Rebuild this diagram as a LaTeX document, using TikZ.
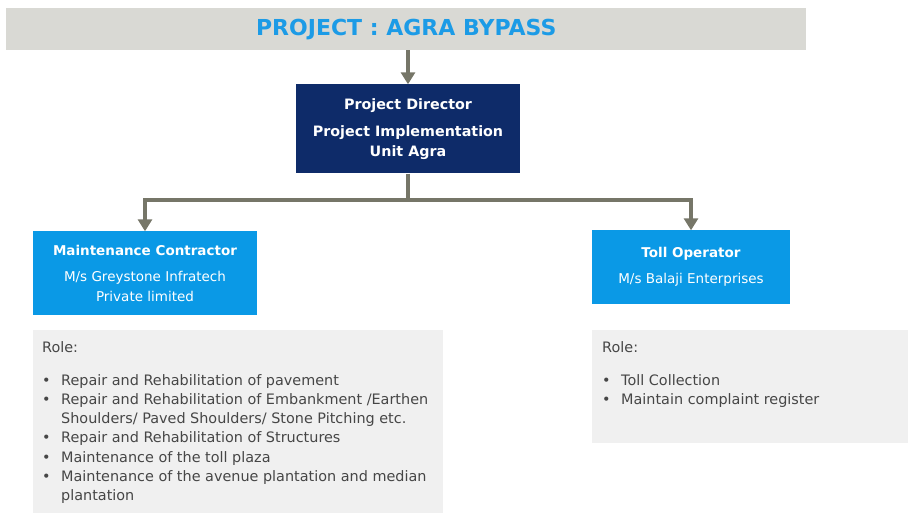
\documentclass[tikz,border=0pt]{standalone}
\usepackage{fontspec}
\setmainfont{DejaVu Sans}
\usetikzlibrary{arrows.meta}

\definecolor{titlegray}{RGB}{217,217,212}
\definecolor{titleblue}{RGB}{28,155,230}
\definecolor{pdnavy}{RGB}{14,43,105}
\definecolor{unitblue}{RGB}{10,153,230}
\definecolor{rolegray}{RGB}{240,240,240}
\definecolor{roletext}{RGB}{70,70,70}
\definecolor{linkgray}{RGB}{118,118,104}

\begin{document}
\begin{tikzpicture}[x=1pt, y=-1pt,
    conn/.style={line width=4pt, draw=linkgray},
    connarrow/.style={conn, -{Triangle[width=14pt, length=12pt]}},
    unitbox/.style={fill=unitblue, text=white, align=center, inner sep=0pt,
        font=\fontsize{13.5}{19.5}\selectfont},
    rolebox/.style={fill=rolegray, anchor=north west, inner sep=0pt},
    roletxt/.style={text=roletext, align=left, anchor=north west, inner sep=0pt,
        font=\fontsize{14.4}{19.2}\selectfont}]
    \useasboundingbox (0,0) rectangle (908,513);
    % Title bar
    \node[fill=titlegray, anchor=north west, minimum width=800pt, minimum height=42pt, inner sep=0pt,
        text=titleblue, font=\fontsize{22}{24}\selectfont\bfseries]
        (title) at (6,8) {PROJECT : AGRA BYPASS};
    % Project director
    \node[fill=pdnavy, text=white, align=center, inner sep=0pt, minimum width=224pt, minimum height=89pt,
        font=\fontsize{14.3}{20}\selectfont\bfseries]
        (pd) at (408,129) {Project Director\\[7pt]Project Implementation\\Unit Agra};
    % Contractor and operator
    \node[unitbox, minimum width=224pt, minimum height=83pt]
        (mc) at (145,273) {\textbf{Maintenance Contractor}\\[7pt]M/s Greystone Infratech\\Private limited};
    \node[unitbox, minimum width=198pt, minimum height=73pt]
        (to) at (691,267) {\textbf{Toll Operator}\\[7pt]M/s Balaji Enterprises};
    % Role boxes
    \node[rolebox, minimum width=410pt, minimum height=183pt] (mcrole) at (33,330) {};
    \node[rolebox, minimum width=316pt, minimum height=113pt] (torole) at (592,330) {};
    \node[roletxt] (mcroletxt) at (42,341) {Role:\\[14pt]
        \makebox[19pt][l]{•}Repair and Rehabilitation of pavement\\
        \makebox[19pt][l]{•}Repair and Rehabilitation of Embankment /Earthen\\
        \hspace*{19pt}Shoulders/ Paved Shoulders/ Stone Pitching etc.\\
        \makebox[19pt][l]{•}Repair and Rehabilitation of Structures\\
        \makebox[19pt][l]{•}Maintenance of the toll plaza\\
        \makebox[19pt][l]{•}Maintenance of the avenue plantation and median\\
        \hspace*{19pt}plantation};
    \node[roletxt] (toroletxt) at (602,341) {Role:\\[14pt]
        \makebox[19pt][l]{•}Toll Collection\\
        \makebox[19pt][l]{•}Maintain complaint register};
    % Arrows
    \coordinate (split) at (pd.south |- 0,200);
    \draw[connarrow] (title.south -| pd.north) -- (pd.north);
    \draw[conn] (pd) -- (split);
    \draw[connarrow] (split) -| (mc);
    \draw[connarrow] (split) -| (to);
\end{tikzpicture}
\end{document}
